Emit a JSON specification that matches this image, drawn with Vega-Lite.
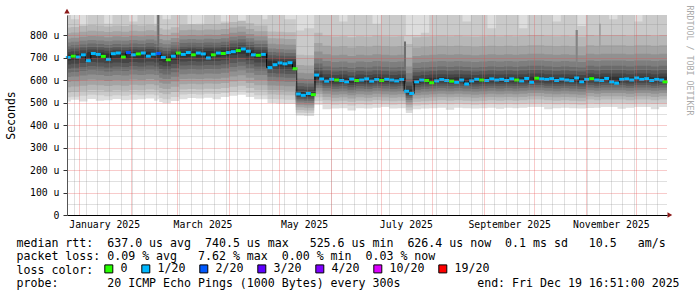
{
"$schema": "https://vega.github.io/schema/vega-lite/v6.json",
"width": 600, "height": 200,
"autosize": {"type": "none"},
"padding": {"left": 67, "top": 15, "right": 30, "bottom": 82},
"background": "#ffffff",
"config": {"view": {"stroke": null}},
"datasets": {
"smoke": [
{"t":"2024-12-22T00:00","l1":505,"l2":523,"l3":545,"l4":568,"l5":591,"l6":613,"l7":633,"l8":651,"l9":669,"l10":687,"h2":889,"h3":833,"h4":808,"h5":785,"h6":767,"h7":751,"h8":737,"h9":725,"h10":713},
{"t":"2024-12-27T00:00","l1":512,"l2":526,"l3":548,"l4":571,"l5":594,"l6":616,"l7":636,"l8":654,"l9":672,"l10":690,"h2":870,"h3":836,"h4":811,"h5":788,"h6":770,"h7":754,"h8":740,"h9":728,"h10":716},
{"t":"2025-01-01T00:00","l1":505,"l2":530,"l3":552,"l4":575,"l5":598,"l6":620,"l7":640,"l8":658,"l9":676,"l10":694,"h2":845,"h3":840,"h4":815,"h5":792,"h6":774,"h7":758,"h8":744,"h9":732,"h10":720},
{"t":"2025-01-06T00:00","l1":516,"l2":534,"l3":556,"l4":579,"l5":602,"l6":624,"l7":644,"l8":662,"l9":680,"l10":698,"h2":889,"h3":844,"h4":819,"h5":796,"h6":778,"h7":762,"h8":748,"h9":736,"h10":724},
{"t":"2025-01-11T00:00","l1":508,"l2":532,"l3":554,"l4":577,"l5":600,"l6":622,"l7":642,"l8":660,"l9":678,"l10":696,"h2":889,"h3":842,"h4":817,"h5":794,"h6":776,"h7":760,"h8":746,"h9":734,"h10":722},
{"t":"2025-01-16T00:00","l1":510,"l2":528,"l3":550,"l4":573,"l5":596,"l6":618,"l7":638,"l8":656,"l9":674,"l10":692,"h2":850,"h3":838,"h4":813,"h5":790,"h6":772,"h7":756,"h8":742,"h9":730,"h10":718},
{"t":"2025-01-21T00:00","l1":516,"l2":532,"l3":554,"l4":577,"l5":600,"l6":622,"l7":642,"l8":660,"l9":678,"l10":696,"h2":889,"h3":842,"h4":817,"h5":794,"h6":776,"h7":760,"h8":746,"h9":734,"h10":722},
{"t":"2025-01-26T00:00","l1":510,"l2":530,"l3":552,"l4":575,"l5":598,"l6":620,"l7":640,"l8":658,"l9":676,"l10":694,"h2":889,"h3":840,"h4":815,"h5":792,"h6":774,"h7":758,"h8":744,"h9":732,"h10":720},
{"t":"2025-01-31T00:00","l1":512,"l2":534,"l3":556,"l4":579,"l5":602,"l6":624,"l7":644,"l8":662,"l9":680,"l10":698,"h2":860,"h3":844,"h4":819,"h5":796,"h6":778,"h7":762,"h8":748,"h9":736,"h10":724},
{"t":"2025-02-05T00:00","l1":514,"l2":532,"l3":554,"l4":577,"l5":600,"l6":622,"l7":642,"l8":660,"l9":678,"l10":696,"h2":889,"h3":842,"h4":817,"h5":794,"h6":776,"h7":760,"h8":746,"h9":734,"h10":722},
{"t":"2025-02-10T00:00","l1":518,"l2":536,"l3":558,"l4":581,"l5":604,"l6":626,"l7":646,"l8":664,"l9":682,"l10":700,"h2":889,"h3":846,"h4":821,"h5":798,"h6":780,"h7":764,"h8":750,"h9":738,"h10":726},
{"t":"2025-02-15T00:00","l1":508,"l2":532,"l3":554,"l4":577,"l5":600,"l6":622,"l7":642,"l8":660,"l9":678,"l10":696,"h2":850,"h3":842,"h4":817,"h5":794,"h6":776,"h7":760,"h8":746,"h9":734,"h10":722},
{"t":"2025-02-17T00:00","l1":514,"l2":532,"l3":554,"l4":577,"l5":600,"l6":622,"l7":642,"l8":660,"l9":678,"l10":696,"h2":889,"h3":889,"h4":889,"h5":889,"h6":889,"h7":889,"h8":746,"h9":734,"h10":722},
{"t":"2025-02-18T00:00","l1":502,"l2":520,"l3":542,"l4":565,"l5":588,"l6":610,"l7":630,"l8":648,"l9":666,"l10":684,"h2":889,"h3":830,"h4":805,"h5":782,"h6":764,"h7":748,"h8":734,"h9":722,"h10":710},
{"t":"2025-02-20T00:00","l1":497,"l2":515,"l3":537,"l4":560,"l5":583,"l6":605,"l7":625,"l8":643,"l9":661,"l10":679,"h2":870,"h3":825,"h4":800,"h5":777,"h6":759,"h7":743,"h8":729,"h9":717,"h10":705},
{"t":"2025-02-25T00:00","l1":507,"l2":525,"l3":547,"l4":570,"l5":593,"l6":615,"l7":635,"l8":653,"l9":671,"l10":689,"h2":889,"h3":835,"h4":810,"h5":787,"h6":769,"h7":753,"h8":739,"h9":727,"h10":715},
{"t":"2025-03-02T00:00","l1":514,"l2":536,"l3":558,"l4":581,"l5":604,"l6":626,"l7":646,"l8":664,"l9":682,"l10":700,"h2":889,"h3":846,"h4":821,"h5":798,"h6":780,"h7":764,"h8":750,"h9":738,"h10":726},
{"t":"2025-03-07T00:00","l1":520,"l2":538,"l3":560,"l4":583,"l5":606,"l6":628,"l7":648,"l8":666,"l9":684,"l10":702,"h2":845,"h3":848,"h4":823,"h5":800,"h6":782,"h7":766,"h8":752,"h9":740,"h10":728},
{"t":"2025-03-12T00:00","l1":518,"l2":536,"l3":558,"l4":581,"l5":604,"l6":626,"l7":646,"l8":664,"l9":682,"l10":700,"h2":850,"h3":846,"h4":821,"h5":798,"h6":780,"h7":764,"h8":750,"h9":738,"h10":726},
{"t":"2025-03-17T00:00","l1":521,"l2":539,"l3":561,"l4":584,"l5":607,"l6":629,"l7":649,"l8":667,"l9":685,"l10":703,"h2":889,"h3":849,"h4":824,"h5":801,"h6":783,"h7":767,"h8":753,"h9":741,"h10":729},
{"t":"2025-03-22T00:00","l1":515,"l2":538,"l3":560,"l4":583,"l5":606,"l6":628,"l7":648,"l8":666,"l9":684,"l10":702,"h2":889,"h3":848,"h4":823,"h5":800,"h6":782,"h7":766,"h8":752,"h9":740,"h10":728},
{"t":"2025-03-27T00:00","l1":524,"l2":542,"l3":564,"l4":587,"l5":610,"l6":632,"l7":652,"l8":670,"l9":688,"l10":706,"h2":860,"h3":852,"h4":827,"h5":804,"h6":786,"h7":770,"h8":756,"h9":744,"h10":732},
{"t":"2025-04-01T00:00","l1":530,"l2":548,"l3":570,"l4":593,"l5":616,"l6":638,"l7":658,"l8":676,"l9":694,"l10":712,"h2":889,"h3":858,"h4":833,"h5":810,"h6":792,"h7":776,"h8":762,"h9":750,"h10":738},
{"t":"2025-04-06T00:00","l1":535,"l2":553,"l3":575,"l4":598,"l5":621,"l6":643,"l7":663,"l8":681,"l9":699,"l10":717,"h2":850,"h3":863,"h4":838,"h5":815,"h6":797,"h7":781,"h8":767,"h9":755,"h10":743},
{"t":"2025-04-11T00:00","l1":524,"l2":542,"l3":564,"l4":587,"l5":610,"l6":632,"l7":652,"l8":670,"l9":688,"l10":706,"h2":889,"h3":852,"h4":827,"h5":804,"h6":786,"h7":770,"h8":756,"h9":744,"h10":732},
{"t":"2025-04-16T00:00","l1":514,"l2":532,"l3":554,"l4":577,"l5":600,"l6":622,"l7":642,"l8":660,"l9":678,"l10":696,"h2":889,"h3":842,"h4":817,"h5":794,"h6":776,"h7":760,"h8":746,"h9":734,"h10":722},
{"t":"2025-04-21T00:00","l1":514,"l2":532,"l3":554,"l4":577,"l5":600,"l6":622,"l7":642,"l8":660,"l9":678,"l10":696,"h2":870,"h3":842,"h4":817,"h5":794,"h6":776,"h7":760,"h8":746,"h9":734,"h10":722},
{"t":"2025-04-24T00:00","l1":498,"l2":516,"l3":536,"l4":556,"l5":576,"l6":596,"l7":614,"l8":631,"l9":646,"l10":662,"h2":889,"h3":816,"h4":786,"h5":761,"h6":740,"h7":724,"h8":710,"h9":698,"h10":686},
{"t":"2025-04-29T00:00","l1":496,"l2":514,"l3":534,"l4":554,"l5":574,"l6":594,"l7":612,"l8":629,"l9":644,"l10":660,"h2":889,"h3":814,"h4":784,"h5":759,"h6":738,"h7":722,"h8":708,"h9":696,"h10":684},
{"t":"2025-05-04T00:00","l1":494,"l2":512,"l3":532,"l4":552,"l5":572,"l6":592,"l7":610,"l8":627,"l9":642,"l10":658,"h2":870,"h3":812,"h4":782,"h5":757,"h6":736,"h7":720,"h8":706,"h9":694,"h10":682},
{"t":"2025-05-11T00:00","l1":442,"l2":455,"l3":467,"l4":479,"l5":490,"l6":500,"l7":509,"l8":517,"l9":525,"l10":531,"h2":820,"h3":712,"h4":667,"h5":632,"h6":607,"h7":587,"h8":572,"h9":559,"h10":547},
{"t":"2025-05-16T00:00","l1":440,"l2":453,"l3":465,"l4":477,"l5":488,"l6":498,"l7":507,"l8":515,"l9":523,"l10":529,"h2":830,"h3":710,"h4":665,"h5":630,"h6":605,"h7":585,"h8":570,"h9":557,"h10":545},
{"t":"2025-05-22T00:00","l1":490,"l2":507,"l3":523,"l4":538,"l5":552,"l6":565,"l7":577,"l8":588,"l9":598,"l10":607,"h2":889,"h3":810,"h4":765,"h5":727,"h6":697,"h7":673,"h8":655,"h9":639,"h10":625},
{"t":"2025-05-27T00:00","l1":470,"l2":494,"l3":510,"l4":525,"l5":539,"l6":552,"l7":564,"l8":575,"l9":585,"l10":594,"h2":889,"h3":797,"h4":752,"h5":714,"h6":684,"h7":660,"h8":642,"h9":626,"h10":612},
{"t":"2025-06-01T00:00","l1":473,"l2":490,"l3":506,"l4":521,"l5":535,"l6":548,"l7":560,"l8":571,"l9":581,"l10":590,"h2":889,"h3":793,"h4":748,"h5":710,"h6":680,"h7":656,"h8":638,"h9":622,"h10":608},
{"t":"2025-06-06T00:00","l1":475,"l2":492,"l3":508,"l4":523,"l5":537,"l6":550,"l7":562,"l8":573,"l9":583,"l10":592,"h2":860,"h3":795,"h4":750,"h5":712,"h6":682,"h7":658,"h8":640,"h9":624,"h10":610},
{"t":"2025-06-11T00:00","l1":465,"l2":487,"l3":503,"l4":518,"l5":532,"l6":545,"l7":557,"l8":568,"l9":578,"l10":587,"h2":889,"h3":790,"h4":745,"h5":707,"h6":677,"h7":653,"h8":635,"h9":619,"h10":605},
{"t":"2025-06-16T00:00","l1":475,"l2":492,"l3":508,"l4":523,"l5":537,"l6":550,"l7":562,"l8":573,"l9":583,"l10":592,"h2":889,"h3":795,"h4":750,"h5":712,"h6":682,"h7":658,"h8":640,"h9":624,"h10":610},
{"t":"2025-06-21T00:00","l1":473,"l2":490,"l3":506,"l4":521,"l5":535,"l6":548,"l7":560,"l8":571,"l9":581,"l10":590,"h2":889,"h3":793,"h4":748,"h5":710,"h6":680,"h7":656,"h8":638,"h9":622,"h10":608},
{"t":"2025-06-26T00:00","l1":477,"l2":494,"l3":510,"l4":525,"l5":539,"l6":552,"l7":564,"l8":575,"l9":585,"l10":594,"h2":850,"h3":797,"h4":752,"h5":714,"h6":684,"h7":660,"h8":642,"h9":626,"h10":612},
{"t":"2025-07-01T00:00","l1":480,"l2":492,"l3":508,"l4":523,"l5":537,"l6":550,"l7":562,"l8":573,"l9":583,"l10":592,"h2":889,"h3":795,"h4":750,"h5":712,"h6":682,"h7":658,"h8":640,"h9":624,"h10":610},
{"t":"2025-07-06T00:00","l1":473,"l2":490,"l3":506,"l4":521,"l5":535,"l6":548,"l7":560,"l8":571,"l9":581,"l10":590,"h2":889,"h3":793,"h4":748,"h5":710,"h6":680,"h7":656,"h8":638,"h9":622,"h10":608},
{"t":"2025-07-11T00:00","l1":475,"l2":492,"l3":508,"l4":523,"l5":537,"l6":550,"l7":562,"l8":573,"l9":583,"l10":592,"h2":889,"h3":795,"h4":750,"h5":712,"h6":682,"h7":658,"h8":640,"h9":624,"h10":610},
{"t":"2025-07-15T00:00","l1":475,"l2":492,"l3":508,"l4":523,"l5":537,"l6":550,"l7":562,"l8":573,"l9":583,"l10":592,"h2":889,"h3":770,"h4":770,"h5":770,"h6":770,"h7":770,"h8":640,"h9":624,"h10":610},
{"t":"2025-07-16T00:00","l1":453,"l2":466,"l3":478,"l4":490,"l5":501,"l6":511,"l7":520,"l8":528,"l9":535,"l10":541,"h2":800,"h3":760,"h4":700,"h5":660,"h6":630,"h7":606,"h8":590,"h9":574,"h10":558},
{"t":"2025-07-20T00:00","l1":470,"l2":487,"l3":503,"l4":518,"l5":532,"l6":545,"l7":557,"l8":568,"l9":578,"l10":587,"h2":800,"h3":790,"h4":745,"h5":707,"h6":677,"h7":653,"h8":635,"h9":619,"h10":605},
{"t":"2025-07-25T00:00","l1":473,"l2":490,"l3":506,"l4":521,"l5":535,"l6":548,"l7":560,"l8":571,"l9":581,"l10":590,"h2":810,"h3":793,"h4":748,"h5":710,"h6":680,"h7":656,"h8":638,"h9":622,"h10":608},
{"t":"2025-07-30T00:00","l1":475,"l2":492,"l3":508,"l4":523,"l5":537,"l6":550,"l7":562,"l8":573,"l9":583,"l10":592,"h2":889,"h3":795,"h4":750,"h5":712,"h6":682,"h7":658,"h8":640,"h9":624,"h10":610},
{"t":"2025-08-04T00:00","l1":477,"l2":494,"l3":510,"l4":525,"l5":539,"l6":552,"l7":564,"l8":575,"l9":585,"l10":594,"h2":889,"h3":797,"h4":752,"h5":714,"h6":684,"h7":660,"h8":642,"h9":626,"h10":612},
{"t":"2025-08-09T00:00","l1":468,"l2":492,"l3":508,"l4":523,"l5":537,"l6":550,"l7":562,"l8":573,"l9":583,"l10":592,"h2":889,"h3":795,"h4":750,"h5":712,"h6":682,"h7":658,"h8":640,"h9":624,"h10":610},
{"t":"2025-08-14T00:00","l1":477,"l2":494,"l3":510,"l4":525,"l5":539,"l6":552,"l7":564,"l8":575,"l9":585,"l10":594,"h2":889,"h3":797,"h4":752,"h5":714,"h6":684,"h7":660,"h8":642,"h9":626,"h10":612},
{"t":"2025-08-19T00:00","l1":475,"l2":492,"l3":508,"l4":523,"l5":537,"l6":550,"l7":562,"l8":573,"l9":583,"l10":592,"h2":860,"h3":795,"h4":750,"h5":712,"h6":682,"h7":658,"h8":640,"h9":624,"h10":610},
{"t":"2025-08-24T00:00","l1":473,"l2":490,"l3":506,"l4":521,"l5":535,"l6":548,"l7":560,"l8":571,"l9":581,"l10":590,"h2":889,"h3":793,"h4":748,"h5":710,"h6":680,"h7":656,"h8":638,"h9":622,"h10":608},
{"t":"2025-08-29T00:00","l1":475,"l2":492,"l3":508,"l4":523,"l5":537,"l6":550,"l7":562,"l8":573,"l9":583,"l10":592,"h2":889,"h3":795,"h4":750,"h5":712,"h6":682,"h7":658,"h8":640,"h9":624,"h10":610},
{"t":"2025-09-03T00:00","l1":477,"l2":494,"l3":510,"l4":525,"l5":539,"l6":552,"l7":564,"l8":575,"l9":585,"l10":594,"h2":830,"h3":797,"h4":752,"h5":714,"h6":684,"h7":660,"h8":642,"h9":626,"h10":612},
{"t":"2025-09-08T00:00","l1":472,"l2":492,"l3":508,"l4":523,"l5":537,"l6":550,"l7":562,"l8":573,"l9":583,"l10":592,"h2":889,"h3":795,"h4":750,"h5":712,"h6":682,"h7":658,"h8":640,"h9":624,"h10":610},
{"t":"2025-09-13T00:00","l1":477,"l2":494,"l3":510,"l4":525,"l5":539,"l6":552,"l7":564,"l8":575,"l9":585,"l10":594,"h2":889,"h3":797,"h4":752,"h5":714,"h6":684,"h7":660,"h8":642,"h9":626,"h10":612},
{"t":"2025-09-18T00:00","l1":475,"l2":492,"l3":508,"l4":523,"l5":537,"l6":550,"l7":562,"l8":573,"l9":583,"l10":592,"h2":889,"h3":795,"h4":750,"h5":712,"h6":682,"h7":658,"h8":640,"h9":624,"h10":610},
{"t":"2025-09-22T00:00","l1":477,"l2":494,"l3":510,"l4":525,"l5":539,"l6":552,"l7":564,"l8":575,"l9":585,"l10":594,"h2":830,"h3":797,"h4":752,"h5":714,"h6":684,"h7":660,"h8":642,"h9":626,"h10":612},
{"t":"2025-09-27T00:00","l1":480,"l2":497,"l3":513,"l4":528,"l5":542,"l6":555,"l7":567,"l8":578,"l9":588,"l10":597,"h2":889,"h3":800,"h4":755,"h5":717,"h6":687,"h7":663,"h8":645,"h9":629,"h10":615},
{"t":"2025-10-02T00:00","l1":480,"l2":497,"l3":513,"l4":528,"l5":542,"l6":555,"l7":567,"l8":578,"l9":588,"l10":597,"h2":889,"h3":800,"h4":755,"h5":717,"h6":687,"h7":663,"h8":645,"h9":629,"h10":615},
{"t":"2025-10-07T00:00","l1":470,"l2":494,"l3":510,"l4":525,"l5":539,"l6":552,"l7":564,"l8":575,"l9":585,"l10":594,"h2":889,"h3":797,"h4":752,"h5":714,"h6":684,"h7":660,"h8":642,"h9":626,"h10":612},
{"t":"2025-10-12T00:00","l1":475,"l2":492,"l3":508,"l4":523,"l5":537,"l6":550,"l7":562,"l8":573,"l9":583,"l10":592,"h2":860,"h3":795,"h4":750,"h5":712,"h6":682,"h7":658,"h8":640,"h9":624,"h10":610},
{"t":"2025-10-17T00:00","l1":477,"l2":494,"l3":510,"l4":525,"l5":539,"l6":552,"l7":564,"l8":575,"l9":585,"l10":594,"h2":889,"h3":797,"h4":752,"h5":714,"h6":684,"h7":660,"h8":642,"h9":626,"h10":612},
{"t":"2025-10-22T00:00","l1":475,"l2":492,"l3":508,"l4":523,"l5":537,"l6":550,"l7":562,"l8":573,"l9":583,"l10":592,"h2":889,"h3":795,"h4":750,"h5":712,"h6":682,"h7":658,"h8":640,"h9":624,"h10":610},
{"t":"2025-10-26T00:00","l1":475,"l2":492,"l3":508,"l4":523,"l5":537,"l6":550,"l7":562,"l8":573,"l9":583,"l10":592,"h2":889,"h3":822,"h4":822,"h5":822,"h6":822,"h7":658,"h8":640,"h9":624,"h10":610},
{"t":"2025-10-27T00:00","l1":473,"l2":490,"l3":506,"l4":521,"l5":535,"l6":548,"l7":560,"l8":571,"l9":581,"l10":590,"h2":840,"h3":793,"h4":748,"h5":710,"h6":680,"h7":656,"h8":638,"h9":622,"h10":608},
{"t":"2025-11-01T00:00","l1":476,"l2":497,"l3":513,"l4":528,"l5":542,"l6":555,"l7":567,"l8":578,"l9":588,"l10":597,"h2":889,"h3":800,"h4":755,"h5":717,"h6":687,"h7":663,"h8":645,"h9":629,"h10":615},
{"t":"2025-11-06T00:00","l1":477,"l2":494,"l3":510,"l4":525,"l5":539,"l6":552,"l7":564,"l8":575,"l9":585,"l10":594,"h2":889,"h3":797,"h4":752,"h5":714,"h6":684,"h7":660,"h8":642,"h9":626,"h10":612},
{"t":"2025-11-09T00:00","l1":477,"l2":494,"l3":510,"l4":525,"l5":539,"l6":552,"l7":564,"l8":575,"l9":585,"l10":594,"h2":889,"h3":850,"h4":850,"h5":714,"h6":684,"h7":660,"h8":642,"h9":626,"h10":612},
{"t":"2025-11-10T00:00","l1":480,"l2":497,"l3":513,"l4":528,"l5":542,"l6":555,"l7":567,"l8":578,"l9":588,"l10":597,"h2":889,"h3":800,"h4":755,"h5":717,"h6":687,"h7":663,"h8":645,"h9":629,"h10":615},
{"t":"2025-11-15T00:00","l1":480,"l2":497,"l3":513,"l4":528,"l5":542,"l6":555,"l7":567,"l8":578,"l9":588,"l10":597,"h2":870,"h3":800,"h4":755,"h5":717,"h6":687,"h7":663,"h8":645,"h9":629,"h10":615},
{"t":"2025-11-20T00:00","l1":472,"l2":497,"l3":513,"l4":528,"l5":542,"l6":555,"l7":567,"l8":578,"l9":588,"l10":597,"h2":889,"h3":800,"h4":755,"h5":717,"h6":687,"h7":663,"h8":645,"h9":629,"h10":615},
{"t":"2025-11-25T00:00","l1":477,"l2":494,"l3":510,"l4":525,"l5":539,"l6":552,"l7":564,"l8":575,"l9":585,"l10":594,"h2":889,"h3":797,"h4":752,"h5":714,"h6":684,"h7":660,"h8":642,"h9":626,"h10":612},
{"t":"2025-11-30T00:00","l1":480,"l2":497,"l3":513,"l4":528,"l5":542,"l6":555,"l7":567,"l8":578,"l9":588,"l10":597,"h2":860,"h3":800,"h4":755,"h5":717,"h6":687,"h7":663,"h8":645,"h9":629,"h10":615},
{"t":"2025-12-05T00:00","l1":480,"l2":497,"l3":513,"l4":528,"l5":542,"l6":555,"l7":567,"l8":578,"l9":588,"l10":597,"h2":889,"h3":800,"h4":755,"h5":717,"h6":687,"h7":663,"h8":645,"h9":629,"h10":615},
{"t":"2025-12-10T00:00","l1":470,"l2":494,"l3":510,"l4":525,"l5":539,"l6":552,"l7":564,"l8":575,"l9":585,"l10":594,"h2":889,"h3":797,"h4":752,"h5":714,"h6":684,"h7":660,"h8":642,"h9":626,"h10":612},
{"t":"2025-12-15T00:00","l1":480,"l2":497,"l3":513,"l4":528,"l5":542,"l6":555,"l7":567,"l8":578,"l9":588,"l10":597,"h2":889,"h3":800,"h4":755,"h5":717,"h6":687,"h7":663,"h8":645,"h9":629,"h10":615},
{"t":"2025-12-19T16:51","l1":480,"l2":497,"l3":513,"l4":528,"l5":542,"l6":555,"l7":567,"l8":578,"l9":588,"l10":597,"h2":889,"h3":800,"h4":755,"h5":717,"h6":687,"h7":663,"h8":645,"h9":629,"h10":615}
],
"median": [
{"t":"2024-12-25T12:00","v":700,"loss":"1/20"},
{"t":"2024-12-28T12:00","v":706,"loss":"0"},
{"t":"2024-12-31T12:00","v":702,"loss":"1/20"},
{"t":"2025-01-03T12:00","v":712,"loss":"1/20"},
{"t":"2025-01-06T12:00","v":686,"loss":"1/20"},
{"t":"2025-01-09T12:00","v":718,"loss":"1/20"},
{"t":"2025-01-12T12:00","v":714,"loss":"1/20"},
{"t":"2025-01-15T12:00","v":705,"loss":"0"},
{"t":"2025-01-18T12:00","v":692,"loss":"1/20"},
{"t":"2025-01-21T12:00","v":717,"loss":"1/20"},
{"t":"2025-01-24T12:00","v":720,"loss":"1/20"},
{"t":"2025-01-27T12:00","v":702,"loss":"0"},
{"t":"2025-01-30T12:00","v":722,"loss":"2/20"},
{"t":"2025-02-02T12:00","v":712,"loss":"1/20"},
{"t":"2025-02-05T12:00","v":716,"loss":"0"},
{"t":"2025-02-08T12:00","v":720,"loss":"1/20"},
{"t":"2025-02-11T12:00","v":706,"loss":"1/20"},
{"t":"2025-02-14T12:00","v":715,"loss":"1/20"},
{"t":"2025-02-17T12:00","v":718,"loss":"2/20"},
{"t":"2025-02-20T12:00","v":700,"loss":"1/20"},
{"t":"2025-02-23T12:00","v":690,"loss":"0"},
{"t":"2025-02-26T12:00","v":706,"loss":"1/20"},
{"t":"2025-03-01T12:00","v":720,"loss":"0"},
{"t":"2025-03-04T12:00","v":714,"loss":"1/20"},
{"t":"2025-03-07T12:00","v":722,"loss":"1/20"},
{"t":"2025-03-10T12:00","v":712,"loss":"0"},
{"t":"2025-03-13T12:00","v":720,"loss":"1/20"},
{"t":"2025-03-16T12:00","v":716,"loss":"1/20"},
{"t":"2025-03-19T12:00","v":698,"loss":"1/20"},
{"t":"2025-03-22T12:00","v":712,"loss":"0"},
{"t":"2025-03-25T12:00","v":720,"loss":"1/20"},
{"t":"2025-03-28T12:00","v":718,"loss":"0"},
{"t":"2025-03-31T12:00","v":722,"loss":"1/20"},
{"t":"2025-04-03T12:00","v":726,"loss":"1/20"},
{"t":"2025-04-06T12:00","v":731,"loss":"0"},
{"t":"2025-04-09T12:00","v":738,"loss":"1/20"},
{"t":"2025-04-12T12:00","v":728,"loss":"1/20"},
{"t":"2025-04-15T12:00","v":712,"loss":"1/20"},
{"t":"2025-04-18T12:00","v":710,"loss":"0"},
{"t":"2025-04-21T12:00","v":714,"loss":"1/20"},
{"t":"2025-04-25T12:00","v":655,"loss":"1/20"},
{"t":"2025-04-28T12:00","v":668,"loss":"1/20"},
{"t":"2025-05-01T12:00","v":676,"loss":"1/20"},
{"t":"2025-05-04T12:00","v":672,"loss":"1/20"},
{"t":"2025-05-07T12:00","v":677,"loss":"1/20"},
{"t":"2025-05-10T12:00","v":650,"loss":"0"},
{"t":"2025-05-12T12:00","v":538,"loss":"1/20"},
{"t":"2025-05-15T12:00","v":532,"loss":"1/20"},
{"t":"2025-05-18T12:00","v":540,"loss":"1/20"},
{"t":"2025-05-21T12:00","v":535,"loss":"0"},
{"t":"2025-05-23T12:00","v":622,"loss":"1/20"},
{"t":"2025-05-26T12:00","v":605,"loss":"1/20"},
{"t":"2025-05-29T12:00","v":595,"loss":"1/20"},
{"t":"2025-06-01T12:00","v":603,"loss":"1/20"},
{"t":"2025-06-04T12:00","v":600,"loss":"0"},
{"t":"2025-06-07T12:00","v":598,"loss":"1/20"},
{"t":"2025-06-10T12:00","v":592,"loss":"1/20"},
{"t":"2025-06-13T12:00","v":604,"loss":"1/20"},
{"t":"2025-06-16T12:00","v":598,"loss":"0"},
{"t":"2025-06-19T12:00","v":600,"loss":"1/20"},
{"t":"2025-06-22T12:00","v":605,"loss":"1/20"},
{"t":"2025-06-25T12:00","v":595,"loss":"1/20"},
{"t":"2025-06-28T12:00","v":602,"loss":"1/20"},
{"t":"2025-07-01T12:00","v":598,"loss":"0"},
{"t":"2025-07-04T12:00","v":603,"loss":"1/20"},
{"t":"2025-07-07T12:00","v":600,"loss":"1/20"},
{"t":"2025-07-10T12:00","v":596,"loss":"1/20"},
{"t":"2025-07-13T12:00","v":602,"loss":"1/20"},
{"t":"2025-07-16T12:00","v":550,"loss":"1/20"},
{"t":"2025-07-19T12:00","v":540,"loss":"1/20"},
{"t":"2025-07-22T12:00","v":592,"loss":"1/20"},
{"t":"2025-07-25T12:00","v":600,"loss":"1/20"},
{"t":"2025-07-28T12:00","v":598,"loss":"0"},
{"t":"2025-07-31T12:00","v":588,"loss":"0"},
{"t":"2025-08-03T12:00","v":596,"loss":"1/20"},
{"t":"2025-08-06T12:00","v":602,"loss":"1/20"},
{"t":"2025-08-09T12:00","v":598,"loss":"1/20"},
{"t":"2025-08-12T12:00","v":595,"loss":"0"},
{"t":"2025-08-15T12:00","v":590,"loss":"1/20"},
{"t":"2025-08-18T12:00","v":600,"loss":"1/20"},
{"t":"2025-08-21T12:00","v":582,"loss":"1/20"},
{"t":"2025-08-24T12:00","v":596,"loss":"1/20"},
{"t":"2025-08-27T12:00","v":603,"loss":"1/20"},
{"t":"2025-08-30T12:00","v":600,"loss":"0"},
{"t":"2025-09-02T12:00","v":598,"loss":"1/20"},
{"t":"2025-09-05T12:00","v":605,"loss":"1/20"},
{"t":"2025-09-08T12:00","v":600,"loss":"1/20"},
{"t":"2025-09-11T12:00","v":603,"loss":"1/20"},
{"t":"2025-09-14T12:00","v":598,"loss":"1/20"},
{"t":"2025-09-17T12:00","v":605,"loss":"1/20"},
{"t":"2025-09-20T12:00","v":600,"loss":"0"},
{"t":"2025-09-23T12:00","v":596,"loss":"1/20"},
{"t":"2025-09-26T12:00","v":607,"loss":"1/20"},
{"t":"2025-09-29T12:00","v":590,"loss":"1/20"},
{"t":"2025-10-02T12:00","v":608,"loss":"0"},
{"t":"2025-10-05T12:00","v":605,"loss":"1/20"},
{"t":"2025-10-08T12:00","v":603,"loss":"1/20"},
{"t":"2025-10-11T12:00","v":606,"loss":"1/20"},
{"t":"2025-10-14T12:00","v":598,"loss":"1/20"},
{"t":"2025-10-17T12:00","v":604,"loss":"1/20"},
{"t":"2025-10-20T12:00","v":600,"loss":"1/20"},
{"t":"2025-10-23T12:00","v":597,"loss":"1/20"},
{"t":"2025-10-26T12:00","v":609,"loss":"1/20"},
{"t":"2025-10-29T12:00","v":592,"loss":"1/20"},
{"t":"2025-11-01T12:00","v":603,"loss":"1/20"},
{"t":"2025-11-04T12:00","v":606,"loss":"0"},
{"t":"2025-11-07T12:00","v":600,"loss":"1/20"},
{"t":"2025-11-10T12:00","v":598,"loss":"1/20"},
{"t":"2025-11-13T12:00","v":607,"loss":"1/20"},
{"t":"2025-11-16T12:00","v":592,"loss":"1/20"},
{"t":"2025-11-19T12:00","v":586,"loss":"1/20"},
{"t":"2025-11-22T12:00","v":603,"loss":"1/20"},
{"t":"2025-11-25T12:00","v":605,"loss":"1/20"},
{"t":"2025-11-28T12:00","v":600,"loss":"1/20"},
{"t":"2025-12-01T12:00","v":609,"loss":"1/20"},
{"t":"2025-12-04T12:00","v":603,"loss":"1/20"},
{"t":"2025-12-07T12:00","v":606,"loss":"1/20"},
{"t":"2025-12-10T12:00","v":598,"loss":"1/20"},
{"t":"2025-12-13T12:00","v":603,"loss":"1/20"},
{"t":"2025-12-16T12:00","v":600,"loss":"1/20"},
{"t":"2025-12-18T12:00","v":592,"loss":"0"}
],
"arrows": [
{"t":"2024-12-24T16:51","v":906,"dir":"up"},
{"t":"2025-12-21T10:00","v":0,"dir":"right"}
]
},
"layer": [
{"data":{"name":"smoke"},"mark":{"type":"area","interpolate":"step-after","color":"#dddddd","clip":true},
 "encoding":{
  "x":{"field":"t","type":"temporal","scale":{"domain":[{"year":2024,"month":12,"date":24,"hours":16,"minutes":51},{"year":2025,"month":12,"date":19,"hours":16,"minutes":51}],"nice":false},
       "axis":{"orient":"bottom","tickCount":{"interval":"week","step":1},"grid":true,"gridColor":"#8f8f8f","gridOpacity":0.55,"gridDash":[1,1],"labels":false,"ticks":false,"domain":false,"title":null,"zindex":1}},
  "y":{"field":"l1","type":"quantitative","scale":{"domain":[0,889],"nice":false,"zero":true},
       "axis":{"orient":"left","values":[50,150,250,350,450,550,650,750,850],"grid":true,"gridColor":"#8f8f8f","gridOpacity":0.55,"gridDash":[1,1],"labels":false,"ticks":false,"domain":false,"title":null,"zindex":1}},
  "y2":{"datum":889}}},
{"data":{"name":"smoke"},"mark":{"type":"area","interpolate":"step-after","color":"#cacaca","clip":true},
 "encoding":{
  "x":{"field":"t","type":"temporal","axis":{"orient":"bottom","tickCount":{"interval":"month","step":1},"grid":true,"gridColor":"#e65050","gridOpacity":0.6,"gridDash":[1,1],"labels":false,"ticks":false,"domain":false,"title":null,"zindex":1}},
  "y":{"field":"l2","type":"quantitative","axis":{"orient":"left","values":[100,200,300,400,500,600,700,800],"grid":true,"gridColor":"#e65050","gridOpacity":0.6,"gridDash":[1,1],"labels":false,"ticks":false,"domain":false,"title":null,"zindex":1}},
  "y2":{"field":"h2"}}},
{"data":{"name":"smoke"},"mark":{"type":"area","interpolate":"step-after","color":"#b7b7b7","clip":true},
 "encoding":{
  "x":{"field":"t","type":"temporal","axis":{"orient":"bottom",
     "values":[{"year":2025,"month":1,"date":16},{"year":2025,"month":3,"date":16},{"year":2025,"month":5,"date":16},{"year":2025,"month":7,"date":16},{"year":2025,"month":9,"date":16},{"year":2025,"month":11,"date":16}],
     "format":"%B %Y","labelFont":"DejaVu Sans Mono","labelFontSize":9.8,"labelColor":"#000000","labelPadding":4,"labelOverlap":false,"labelFlush":false,"labelBound":false,
     "ticks":false,"tickSize":0,"grid":false,"domain":true,"domainColor":"#000000","domainWidth":1,"zindex":1,
     "title":["median rtt:\u00a0\u00a0637.0 us avg\u00a0\u00a0740.5 us max\u00a0\u00a0\u00a0525.6 us min\u00a0\u00a0626.4 us now\u00a0\u00a00.1 ms sd\u00a0\u00a0\u00a010.5\u00a0\u00a0\u00a0am/s",
              "packet loss: 0.09 % avg\u00a0\u00a0\u00a07.62 % max\u00a0\u00a00.00 % min\u00a0\u00a00.03 % now",
              "loss color:",
              "probe:\u00a0\u00a0\u00a0\u00a0\u00a0\u00a0\u00a020 ICMP Echo Pings (1000 Bytes) every 300s\u00a0\u00a0\u00a0\u00a0\u00a0\u00a0\u00a0\u00a0\u00a0\u00a0\u00a0end: Fri Dec 19 16:51:00 2025"],
     "titleFont":"DejaVu Sans Mono","titleFontSize":11.6,"titleFontWeight":"normal","titleColor":"#000000","titleAlign":"left","titleAngle":0,"titleBaseline":"alphabetic","titleX":-51,"titleY":31,"titleLineHeight":13.6}},
  "y":{"field":"l3","type":"quantitative","axis":{"orient":"left",
     "values":[0,100,200,300,400,500,600,700,800],
     "labelExpr":"datum.value == 0 ? '0\u00a0\u00a0' : datum.value + ' u'",
     "labelFont":"DejaVu Sans Mono","labelFontSize":9.8,"labelColor":"#000000","labelPadding":4,"labelOverlap":false,
     "ticks":true,"tickSize":4,"tickColor":"#333333","domain":true,"domainColor":"#555555","grid":false,"zindex":1,
     "title":"Seconds","titleFont":"DejaVu Sans Mono","titleFontSize":11.5,"titleFontWeight":"normal","titleColor":"#000000","titleX":-56,"titleY":100,"titleAngle":-90,"titleAlign":"center","titleBaseline":"middle"}},
  "y2":{"field":"h3"}}},
{"data":{"name":"smoke"},"mark":{"type":"area","interpolate":"step-after","color":"#a4a4a4","clip":true},
 "encoding":{
  "x":{"field":"t","type":"temporal","axis":null},
  "y":{"field":"l4","type":"quantitative","axis":{"orient":"right","labels":false,"ticks":false,"domain":false,"grid":false,
     "title":"RRDTOOL / TOBI OETIKER","titleFont":"DejaVu Sans Mono","titleFontSize":8.3,"titleFontWeight":"normal","titleColor":"#aaaaaa","titleAngle":90,"titleX":21,"titleY":45,"titleAlign":"center","titleBaseline":"middle"}},
  "y2":{"field":"h4"}}},
{"data":{"name":"smoke"},"mark":{"type":"area","interpolate":"step-after","color":"#919191","clip":true},
 "encoding":{"x":{"field":"t","type":"temporal","axis":null},"y":{"field":"l5","type":"quantitative","axis":null},"y2":{"field":"h5"}}},
{"data":{"name":"smoke"},"mark":{"type":"area","interpolate":"step-after","color":"#7e7e7e","clip":true},
 "encoding":{"x":{"field":"t","type":"temporal","axis":null},"y":{"field":"l6","type":"quantitative","axis":null},"y2":{"field":"h6"}}},
{"data":{"name":"smoke"},"mark":{"type":"area","interpolate":"step-after","color":"#6b6b6b","clip":true},
 "encoding":{"x":{"field":"t","type":"temporal","axis":null},"y":{"field":"l7","type":"quantitative","axis":null},"y2":{"field":"h7"}}},
{"data":{"name":"smoke"},"mark":{"type":"area","interpolate":"step-after","color":"#585858","clip":true},
 "encoding":{"x":{"field":"t","type":"temporal","axis":null},"y":{"field":"l8","type":"quantitative","axis":null},"y2":{"field":"h8"}}},
{"data":{"name":"smoke"},"mark":{"type":"area","interpolate":"step-after","color":"#454545","clip":true},
 "encoding":{"x":{"field":"t","type":"temporal","axis":null},"y":{"field":"l9","type":"quantitative","axis":null},"y2":{"field":"h9"}}},
{"data":{"name":"smoke"},"mark":{"type":"area","interpolate":"step-after","color":"#323232","clip":true},
 "encoding":{"x":{"field":"t","type":"temporal","axis":null},"y":{"field":"l10","type":"quantitative","axis":null},"y2":{"field":"h10"}}},
{"data":{"name":"median"},"mark":{"type":"line","interpolate":"step","color":"#000000","strokeWidth":1},
 "encoding":{"x":{"field":"t","type":"temporal","axis":null},"y":{"field":"v","type":"quantitative","axis":null}}},
{"data":{"name":"median"},"mark":{"type":"tick","orient":"horizontal","size":5,"thickness":3,"opacity":1},
 "encoding":{"x":{"field":"t","type":"temporal","axis":null},"y":{"field":"v","type":"quantitative","axis":null},
  "color":{"field":"loss","type":"nominal",
    "scale":{"domain":["0","1/20","2/20","3/20","4/20","10/20","19/20"],"range":["#26ff00","#00b8ff","#0059ff","#5e00ff","#7e00ff","#dd00ff","#ff0000"]},
    "legend":{"title":null,"orient":"none","legendX":36,"legendY":248,"direction":"horizontal",
      "labelFont":"DejaVu Sans Mono","labelFontSize":11.6,"labelColor":"#000000","labelOffset":6,"columnPadding":11,
      "symbolType":"square","symbolSize":64,"symbolStrokeColor":"#000000","symbolStrokeWidth":1,"symbolOpacity":1,"padding":0,
      "encode":{"symbols":{"update":{"stroke":{"value":"#000000"},"strokeWidth":{"value":1},"opacity":{"value":1}}}}}}}},
{"data":{"name":"arrows"},"mark":{"type":"point","filled":true,"size":30,"opacity":1,"color":"#8b1a1a"},
 "encoding":{"x":{"field":"t","type":"temporal","axis":null},"y":{"field":"v","type":"quantitative","axis":null},
  "shape":{"field":"dir","type":"nominal","scale":{"domain":["up","right"],"range":["triangle-up","triangle-right"]},"legend":null}}}
],
"resolve":{"axis":{"x":"independent","y":"independent"}}
}
